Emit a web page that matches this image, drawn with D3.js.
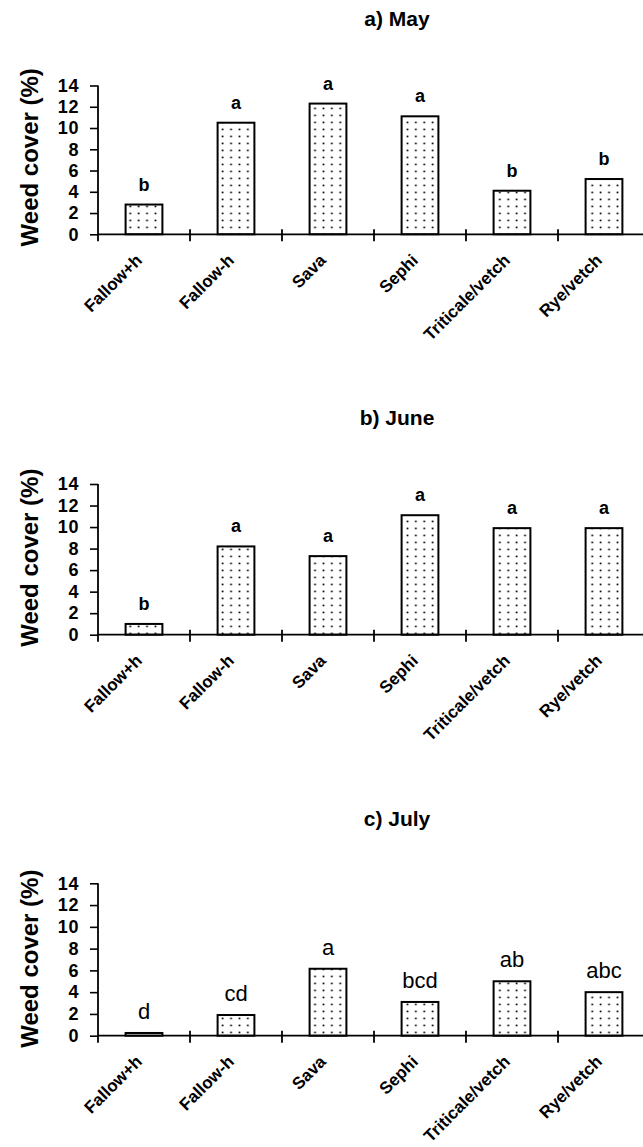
<!DOCTYPE html>
<html>
<head>
<meta charset="utf-8">
<script src="https://cdn.jsdelivr.net/npm/d3@7"></script>
<style>
  html, body { margin: 0; padding: 0; background: #fff; }
  svg { display: block; }
  text { font-family: "Liberation Sans", Arial, Helvetica, sans-serif; fill: #000; }
</style>
</head>
<body>
<svg id="chart" width="643" height="1147"></svg>
<script>
// ---------------- data ----------------
const categories = ["Fallow+h", "Fallow-h", "Sava", "Sephi", "Triticale/vetch", "Rye/vetch"];
const panelTitles = ["a) May", "b) June", "c) July"];
const mayValues  = [2.8, 10.5, 12.3, 11.1, 4.1, 5.2];
const juneValues = [1.0, 8.2, 7.3, 11.1, 9.9, 9.9];
const julyValues = [0.25, 1.9, 6.15, 3.1, 5.0, 4.0];
const mayLetters  = ["b", "a", "a", "a", "b", "b"];
const juneLetters = ["b", "a", "a", "a", "a", "a"];
const julyLetters = ["d", "cd", "a", "bcd", "ab", "abc"];
const yTicks = [0, 2, 4, 6, 8, 10, 12, 14];
const yLabel = "Weed cover (%)";

// ---------------- layout ----------------
const svg = d3.select("#chart");
const W = 643;

const defs = svg.append("defs");
const pat = defs.append("pattern")
  .attr("id", "dots")
  .attr("patternUnits", "userSpaceOnUse")
  .attr("width", 8.4).attr("height", 7);
pat.append("rect").attr("width", 8.4).attr("height", 7).attr("fill", "#fff");
pat.append("rect").attr("x", 3.4).attr("y", 2.6).attr("width", 1.7).attr("height", 1.7).attr("fill", "#000");

const panels = [
  { title: panelTitles[0], values: mayValues,  letters: mayLetters,  zero: 234.3, top: 85.5,  titleY: 26,  letterStyle: "bold" },
  { title: panelTitles[1], values: juneValues, letters: juneLetters, zero: 634.7, top: 484.0, titleY: 425, letterStyle: "bold" },
  { title: panelTitles[2], values: julyValues, letters: julyLetters, zero: 1035.7, top: 883.3, titleY: 826, letterStyle: "normal" }
];

const xLeft = 98, xRight = 650;

panels.forEach(p => {
  const g = svg.append("g");

  const x = d3.scaleBand().domain(categories).range([xLeft, xRight])
    .paddingInner(0.6).paddingOuter(0.3);
  const y = d3.scaleLinear().domain([0, 14]).range([p.zero, p.top]);
  const step = x.step();
  const gap = (step - x.bandwidth()) / 2;

  // title
  g.append("text")
    .attr("x", 397).attr("y", p.titleY)
    .attr("text-anchor", "middle")
    .attr("font-size", 21).attr("font-weight", "bold")
    .text(p.title);

  // y axis label
  g.append("text")
    .attr("transform", `translate(38,${p.zero - 77}) rotate(-90)`)
    .attr("text-anchor", "middle")
    .attr("font-size", 24).attr("font-weight", "bold")
    .text(yLabel);

  // bars
  g.selectAll("rect.bar").data(p.values).join("rect")
    .attr("class", "bar")
    .attr("x", (d, i) => x(categories[i]))
    .attr("y", d => y(d))
    .attr("width", x.bandwidth())
    .attr("height", d => y(0) - y(d))
    .attr("fill", "url(#dots)")
    .attr("stroke", "#000")
    .attr("stroke-width", 2);

  // significance letters
  g.selectAll("text.sig").data(p.values).join("text")
    .attr("class", "sig")
    .attr("x", (d, i) => x(categories[i]) + x.bandwidth() / 2)
    .attr("y", d => y(d) - 14)
    .attr("text-anchor", "middle")
    .attr("font-size", p.letterStyle === "bold" ? 18 : 22)
    .attr("font-weight", p.letterStyle)
    .text((d, i) => p.letters[i]);

  // y axis
  const yAxis = d3.axisLeft(y).tickValues(yTicks).tickSize(8).tickPadding(11);
  const ya = g.append("g").attr("transform", `translate(${xLeft},0)`).call(yAxis);
  ya.select(".domain").remove();
  ya.selectAll(".tick line").attr("stroke", "#000").attr("stroke-width", 1.6);
  ya.selectAll(".tick text")
    .attr("font-size", 18).attr("font-weight", "bold")
    .attr("letter-spacing", 0.6)
    .attr("font-family", "'Liberation Sans', Arial, sans-serif")
    .attr("fill", "#000");
  g.append("line")
    .attr("x1", xLeft).attr("x2", xLeft)
    .attr("y1", y(14)).attr("y2", y(0) + 7)
    .attr("stroke", "#000").attr("stroke-width", 1.8);

  // x axis
  g.append("line")
    .attr("x1", xLeft).attr("x2", W)
    .attr("y1", y(0)).attr("y2", y(0))
    .attr("stroke", "#000").attr("stroke-width", 1.8);
  g.selectAll("line.xt").data(categories.slice(1)).join("line")
    .attr("class", "xt")
    .attr("x1", c => x(c) - gap).attr("x2", c => x(c) - gap)
    .attr("y1", y(0) - 5).attr("y2", y(0) + 7)
    .attr("stroke", "#000").attr("stroke-width", 1.8);

  // category labels
  g.selectAll("text.cat").data(categories).join("text")
    .attr("class", "cat")
    .attr("transform", c => `translate(${x(c) + x.bandwidth() / 2 - 1},${y(0) + 27}) rotate(-45)`)
    .attr("text-anchor", "end")
    .attr("font-size", 17).attr("font-weight", "bold")
    .text(c => c);
});
</script>
</body>
</html>
